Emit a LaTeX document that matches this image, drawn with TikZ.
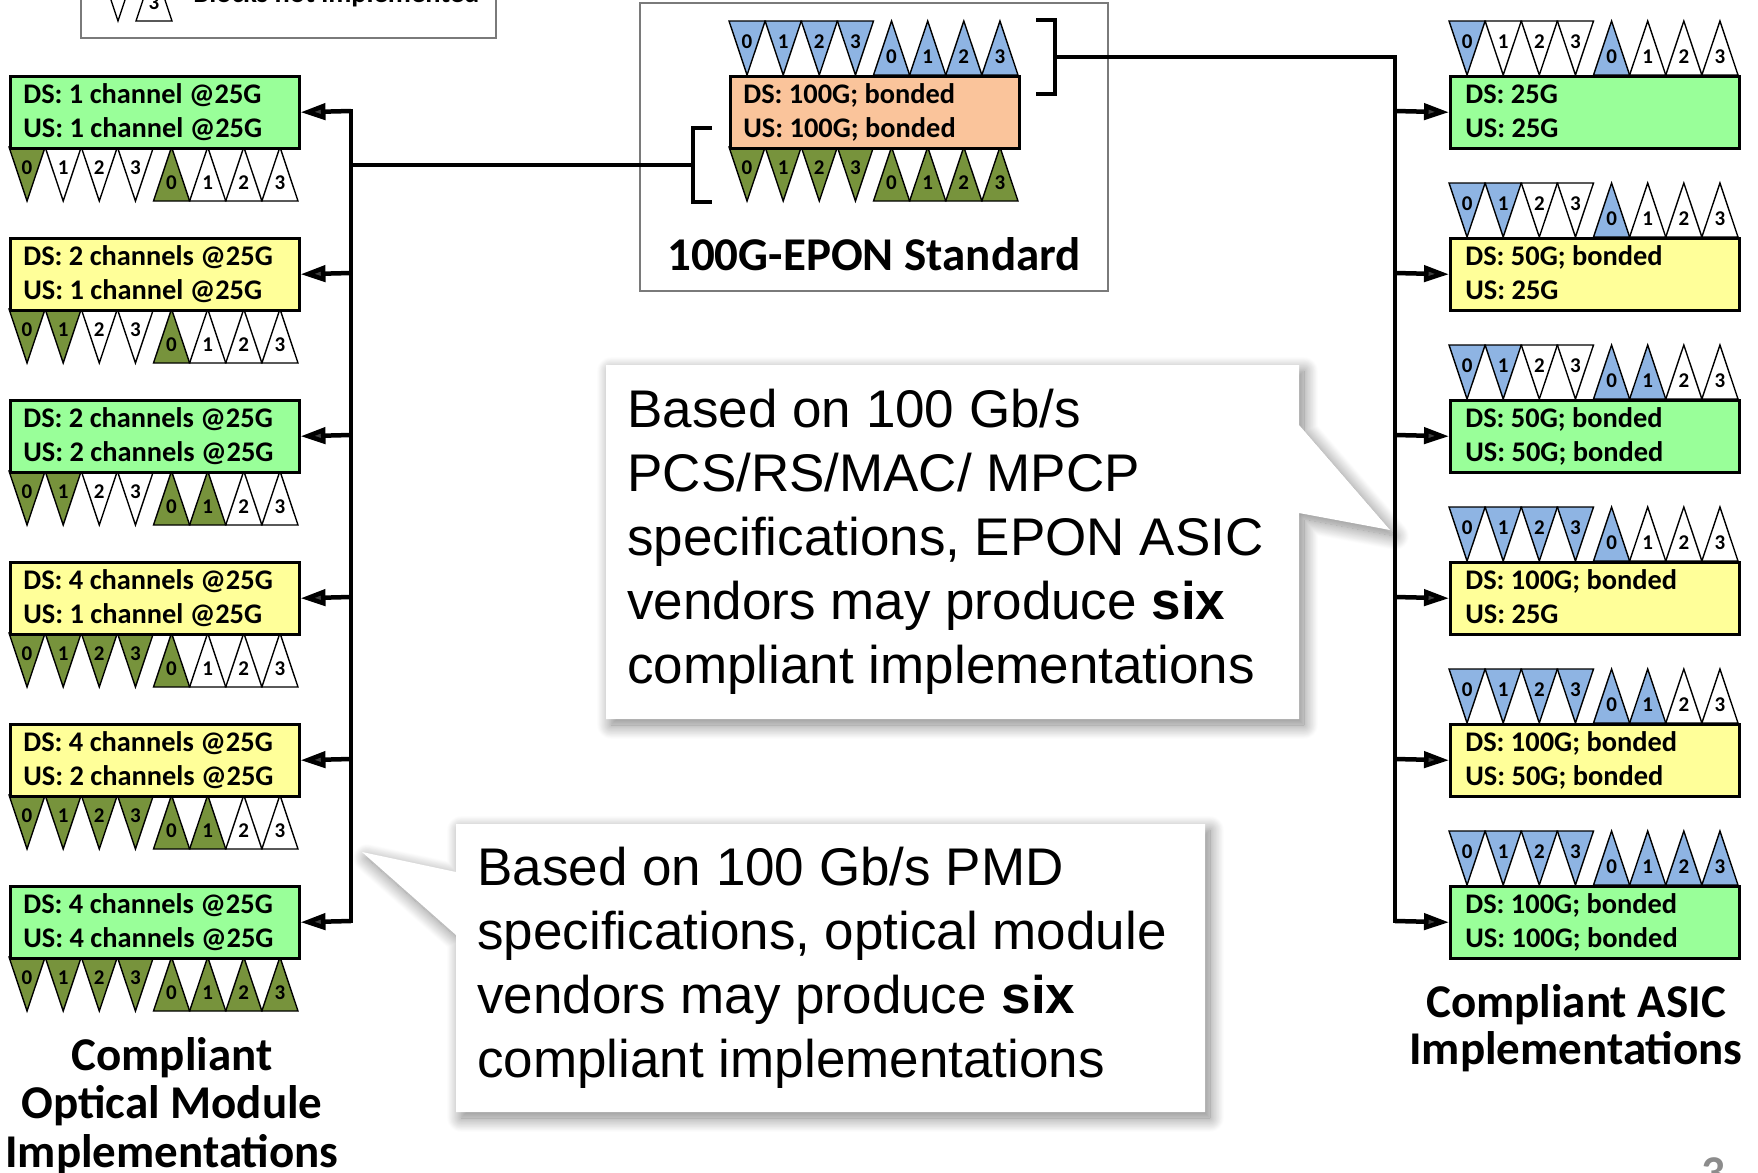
\documentclass[tikz,border=0pt]{standalone}
\usepackage{fontspec}
\setmainfont{Carlito}
\newfontfamily\arialf{Liberation Sans}
\usetikzlibrary{arrows.meta,shadows.blur}

\definecolor{boxgreen}{HTML}{99FF99}
\definecolor{boxyellow}{HTML}{FFFF99}
\definecolor{boxorange}{HTML}{FAC49B}
\definecolor{triblue}{HTML}{8EB4E3}
\definecolor{trigreen}{HTML}{77933C}
\definecolor{framegray}{HTML}{7A7A7A}
\definecolor{pagegray}{HTML}{8C8C8C}

\tikzset{
  tri/.style={draw=black, line width=0.7pt, line join=miter},
  dig/.style={font=\fontsize{10.5}{10.5}\selectfont\bfseries, inner sep=0pt},
  ibox/.style={draw=black, line width=1.25pt, minimum width=144.5pt, minimum height=36pt, inner sep=0pt, anchor=north west},
  btxt/.style={font=\fontsize{14.2}{17}\selectfont\bfseries, inner sep=0pt, anchor=base west},
  bus/.style={line width=2.25pt, line join=miter},
  arr/.style={line width=2.25pt, -{Triangle[length=12.5pt,width=8pt]}},
  brk/.style={line width=2.25pt, line join=miter},
  frame/.style={draw=framegray, line width=0.6pt},
  bigtxt/.style={font=\fontsize{23.5}{24}\selectfont\bfseries, inner sep=0pt, anchor=base},
  callout/.style={fill=white, blur shadow={shadow xshift=2.5pt, shadow yshift=-3pt, shadow blur radius=7pt, shadow blur steps=20, shadow opacity=50}},
  ctxt/.style={font=\arialf\fontsize{26.5}{32}\selectfont, inner sep=0pt, anchor=base west},
}

% row of triangles: x0, ytop, nDS filled, nUS filled, colour
\newcommand\trow[5]{%
  \foreach \k in {0,1,2,3}{%
    \ifnum\k<#3\relax\def\fc{#5}\else\def\fc{white}\fi
    \draw[tri,fill=\fc] ({#1+36.125*\k},#2) -- ++(36.125,0) -- ++(-18.0625,54) -- cycle;
    \node[dig] at ({#1+36.125*\k+18.0625},{#2+21}) {\k};
  }%
  \foreach \k in {0,1,2,3}{%
    \ifnum\k<#4\relax\def\fc{#5}\else\def\fc{white}\fi
    \draw[tri,fill=\fc] ({#1+144.5+36.125*\k},{#2+54}) -- ++(36.125,0) -- ++(-18.0625,-54) -- cycle;
    \node[dig] at ({#1+144.5+36.125*\k+18.0625},{#2+36}) {\k};
  }%
}

% box: name, x, top, fill, line1, line2, text padding
\newcommand\implbox[7]{%
  \node[ibox,fill=#4] (#1) at (#2,#3) {};
  \node[btxt] (#1-a) at ({#2+#7},{#3+28}) {#5};
  \node[btxt] (#1-b) at ({#2+#7},{#3+62}) {#6};
}

\begin{document}
\begin{tikzpicture}[x=0.5pt,y=-0.5pt]
\useasboundingbox (0,0) rectangle (1758,1173);
\clip (0,0) rectangle (1758,1173);

% legend (cut off at the top)
\draw[frame] (81,-80) rectangle (496,38);
\draw[tri,fill=white] (100,-33) -- (136,-33) -- (118,21) -- cycle;
\draw[tri,fill=white] (136,21) -- (172,21) -- (154,-33) -- cycle;
\node[dig] (leg3) at (154,3) {3};
\node[btxt] (legtxt) at (193,2) {Blocks not implemented};

% centre: standard
\draw[frame] (640,3) rectangle (1108,291);
\trow{729}{21}{4}{4}{triblue}
\trow{729}{147}{4}{4}{trigreen}
\implbox{C}{729}{75}{boxorange}{DS: 100G; bonded}{US: 100G; bonded}{14}
\node[bigtxt] (title) at (874,270) {100G-EPON Standard};
\coordinate (brL) at (693,165);
\coordinate (brR) at (1055,57);
\draw[brk] (712,128) -- (693,128) -- (693,202) -- (712,202);
\draw[brk] (1036,20) -- (1055,20) -- (1055,94) -- (1036,94);

% left: optical modules
\trow{9}{147}{1}{1}{trigreen}
\trow{9}{309}{2}{1}{trigreen}
\trow{9}{471}{2}{2}{trigreen}
\trow{9}{633}{4}{1}{trigreen}
\trow{9}{795}{4}{2}{trigreen}
\trow{9}{957}{4}{4}{trigreen}
\implbox{L1}{9}{75}{boxgreen}{DS: 1 channel @25G}{US: 1 channel @25G}{14}
\implbox{L2}{9}{237}{boxyellow}{DS: 2 channels @25G}{US: 1 channel @25G}{14}
\implbox{L3}{9}{399}{boxgreen}{DS: 2 channels @25G}{US: 2 channels @25G}{14}
\implbox{L4}{9}{561}{boxyellow}{DS: 4 channels @25G}{US: 1 channel @25G}{14}
\implbox{L5}{9}{723}{boxyellow}{DS: 4 channels @25G}{US: 2 channels @25G}{14}
\implbox{L6}{9}{885}{boxgreen}{DS: 4 channels @25G}{US: 4 channels @25G}{14}

% right: ASICs
\trow{1449}{21}{1}{1}{triblue}
\trow{1449}{183}{2}{1}{triblue}
\trow{1449}{345}{2}{2}{triblue}
\trow{1449}{507}{4}{1}{triblue}
\trow{1449}{669}{4}{2}{triblue}
\trow{1449}{831}{4}{4}{triblue}
\implbox{R1}{1449}{75}{boxgreen}{DS: 25G}{US: 25G}{16}
\implbox{R2}{1449}{237}{boxyellow}{DS: 50G; bonded}{US: 25G}{16}
\implbox{R3}{1449}{399}{boxgreen}{DS: 50G; bonded}{US: 50G; bonded}{16}
\implbox{R4}{1449}{561}{boxyellow}{DS: 100G; bonded}{US: 25G}{16}
\implbox{R5}{1449}{723}{boxyellow}{DS: 100G; bonded}{US: 50G; bonded}{16}
\implbox{R6}{1449}{885}{boxgreen}{DS: 100G; bonded}{US: 100G; bonded}{16}

% callouts
\path[callout] (606,365) -- (1299,365) -- (1299,425) -- (1390,530) -- (1299,513) -- (1299,719) -- (606,719) -- cycle;
\node[ctxt] (c1a) at (627,427) {Based on 100 Gb/s};
\node[ctxt] (c1b) at (627,491) {PCS/RS/MAC/ MPCP};
\node[ctxt] (c1c) at (627,555) {specifications, EPON ASIC};
\node[ctxt] (c1d) at (627,619) {vendors may produce \textbf{six}};
\node[ctxt] (c1e) at (627,683) {compliant implementations};

\path[callout] (456,824) -- (1205,824) -- (1205,1112) -- (456,1112) -- (456,935) -- (362,852) -- (456,872) -- cycle;
\node[ctxt] (c2a) at (477,885) {Based on 100 Gb/s PMD};
\node[ctxt] (c2b) at (477,949) {specifications, optical module};
\node[ctxt] (c2c) at (477,1013) {vendors may produce \textbf{six}};
\node[ctxt] (c2d) at (477,1077) {compliant implementations};

% bus coordinates
\foreach \i/\y in {1/111,2/273,3/435,4/597,5/759,6/921}{
  \coordinate (lb\i) at (351,\y);
  \coordinate (rb\i) at (1395,\y);
}
\coordinate (lbm) at (351,165);
\coordinate (rbt) at (1395,57);

% left bus
\draw[bus, line cap=rect] (lb1) -- (lb6);
\draw[bus] (lbm) -- (brL);
\foreach \i in {1,...,6}{ \draw[arr] (lb\i) -- (L\i.east); }

% right bus
\draw[bus] (brR) -- (rbt) -- (rb6);
\draw[bus, line cap=rect] (rb6) -- ++(0,-1);
\foreach \i in {1,...,6}{ \draw[arr] (rb\i) -- (R\i.west); }

% bottom labels
\node[bigtxt] (optA) at (172,1070) {Compliant};
\node[bigtxt] (optB) at (172,1118) {Optical Module};
\node[bigtxt] (optC) at (172,1167) {Implementations};
\node[bigtxt] (asicA) at (1576,1017) {Compliant ASIC};
\node[bigtxt] (asicB) at (1576,1064) {Implementations};
\node[font=\fontsize{23.5}{24}\selectfont\bfseries, text=pagegray, inner sep=0pt, anchor=north] (pgno) at (1713,1157) {3};
\end{tikzpicture}
\end{document}
